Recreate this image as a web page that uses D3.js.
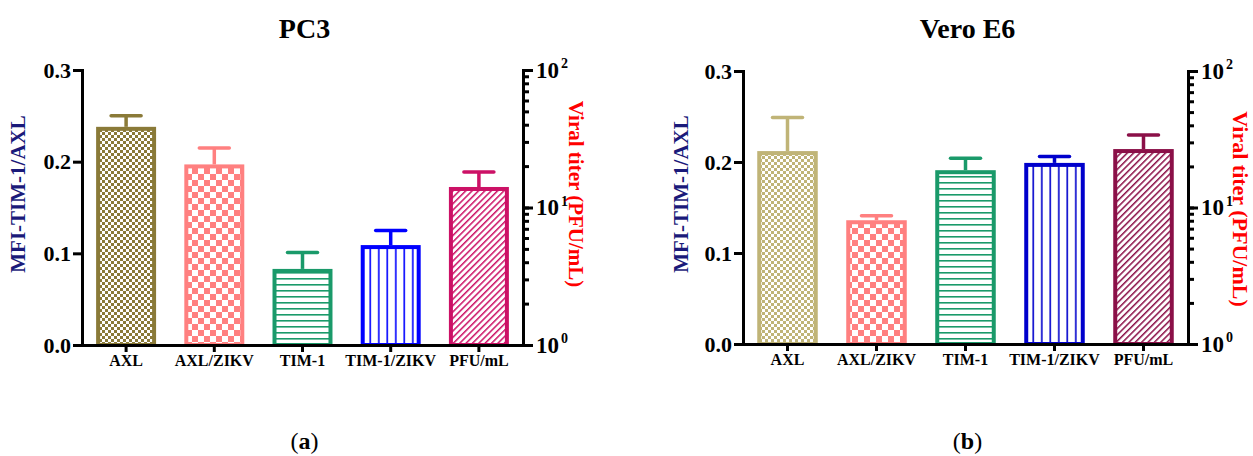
<!DOCTYPE html>
<html>
<head>
<meta charset="utf-8">
<script src="https://cdn.jsdelivr.net/npm/d3@7.9.0/dist/d3.min.js"></script>
<style>
  body { margin: 0; background: #fff; }
  svg text { font-family: "Liberation Serif", "Times New Roman", serif; font-weight: bold; }
</style>
</head>
<body>
<svg id="chart" width="1253" height="456"></svg>
<script>
// Data
const categories = ['AXL', 'AXL/ZIKV', 'TIM-1', 'TIM-1/ZIKV', 'PFU/mL'];
const pc3Means = [0.238, 0.197, 0.083, 0.109, 14.1];
const pc3Errors = [0.012, 0.018, 0.018, 0.016, 4.0];
const veroMeans = [0.212, 0.136, 0.191, 0.199, 26.8];
const veroErrors = [0.037, 0.005, 0.013, 0.007, 7.2];
const leftTicks = [0, 0.1, 0.2, 0.3];
const rightTicks = [1, 10, 100];
const titles = ['PC3', 'Vero E6'];
const captions = ['a', 'b'];

const pc3Colors = ['#8a7a38', '#ff8080', '#1a9a6a', '#0000ff', '#cc1166'];
const veroColors = ['#c0b477', '#ff8080', '#1a9a6a', '#0000cc', '#8b1048'];
const patternKinds = ['checkFine', 'checkCoarse', 'hlines', 'vlines', 'diag'];

const svg = d3.select('#chart');
const defs = svg.append('defs');

function makePattern(id, kind, color) {
  let p = defs.append('pattern').attr('id', id).attr('patternUnits', 'userSpaceOnUse');
  if (kind === 'checkFine' || kind === 'checkCoarse') {
    let s = kind === 'checkFine' ? 3 : 6;
    p.attr('width', s * 2).attr('height', s * 2);
    p.append('rect').attr('width', s * 2).attr('height', s * 2).attr('fill', '#fff');
    p.append('rect').attr('width', s).attr('height', s).attr('fill', color);
    p.append('rect').attr('x', s).attr('y', s).attr('width', s).attr('height', s).attr('fill', color);
  } else if (kind === 'hlines') {
    p.attr('width', 6).attr('height', 6);
    p.append('rect').attr('width', 6).attr('height', 6).attr('fill', '#fff');
    p.append('rect').attr('y', 2).attr('width', 6).attr('height', 1.6).attr('fill', color);
  } else if (kind === 'vlines') {
    p.attr('width', 8.5).attr('height', 8);
    p.append('rect').attr('width', 8.5).attr('height', 8).attr('fill', '#fff');
    p.append('rect').attr('x', 4).attr('width', 1.6).attr('height', 8).attr('fill', color);
  } else {
    p.attr('width', 4.5).attr('height', 4.5).attr('patternTransform', 'rotate(45)');
    p.append('rect').attr('width', 4.5).attr('height', 4.5).attr('fill', '#fff');
    p.append('rect').attr('width', 1.5).attr('height', 4.5).attr('fill', color);
  }
}

function drawPanel(cfg) {
  let g = svg.append('g');

  let x = d3.scaleBand().domain(categories).range([cfg.left, cfg.right]).paddingInner(0.32).paddingOuter(0.16);
  let yLeft = d3.scaleLinear().domain([0, 0.3]).range([cfg.bottom, cfg.top]);
  let yRight = d3.scaleLog().domain([1, 100]).range([cfg.bottom, cfg.top]);
  // last category is plotted against the log (viral titer) axis
  let yOf = (i) => i === categories.length - 1 ? yRight : yLeft;

  categories.forEach((c, i) => {
    makePattern(`${cfg.key}-p${i}`, patternKinds[i], cfg.colors[i]);
  });

  // error bars (behind bars)
  categories.forEach((c, i) => {
    let y = yOf(i);
    let cx = x(c) + x.bandwidth() / 2;
    let top = y(cfg.means[i] + cfg.errors[i]);
    g.append('line')
      .attr('x1', cx).attr('x2', cx)
      .attr('y1', y(cfg.means[i])).attr('y2', top)
      .attr('stroke', cfg.colors[i]).attr('stroke-width', 3.5);
    g.append('line')
      .attr('x1', cx - 15).attr('x2', cx + 15)
      .attr('y1', top).attr('y2', top)
      .attr('stroke', cfg.colors[i]).attr('stroke-width', 3.5)
      .attr('stroke-linecap', 'round');
  });

  // bars
  categories.forEach((c, i) => {
    let y = yOf(i);
    g.append('rect')
      .attr('x', x(c) + 2)
      .attr('y', y(cfg.means[i]) + 2)
      .attr('width', x.bandwidth() - 4)
      .attr('height', cfg.bottom - y(cfg.means[i]) - 2)
      .attr('fill', `url(#${cfg.key}-p${i})`)
      .attr('stroke', cfg.colors[i])
      .attr('stroke-width', 4);
  });

  // left axis
  let la = g.append('g').attr('transform', `translate(${cfg.left},0)`)
    .call(d3.axisLeft(yLeft).tickValues(leftTicks).tickFormat(d3.format('.1f')).tickSize(9).tickSizeOuter(0));
  la.selectAll('text').attr('font-size', 22).attr('x', -11).attr('fill', '#000');

  // right axis: minor then major ticks
  let rm = g.append('g').attr('transform', `translate(${cfg.right},0)`)
    .call(d3.axisRight(yRight).tickValues(yRight.ticks()).tickFormat('').tickSize(6).tickSizeOuter(0));
  rm.select('.domain').remove();
  let ra = g.append('g').attr('transform', `translate(${cfg.right},0)`)
    .call(d3.axisRight(yRight).tickValues(rightTicks).tickSize(10).tickSizeOuter(0));
  ra.selectAll('text').each(function (d) {
    let t = d3.select(this).text('').attr('x', 13).attr('font-size', 23).attr('fill', '#000').attr('text-anchor', 'start');
    t.append('tspan').text('10');
    t.append('tspan').text(Math.round(Math.log10(d))).attr('font-size', 14).attr('dy', '-0.7em').attr('dx', 2);
  });

  // bottom axis
  let ba = g.append('g').attr('transform', `translate(0,${cfg.bottom})`)
    .call(d3.axisBottom(x).tickSize(7).tickSizeOuter(0));
  ba.selectAll('text').attr('font-size', 16).attr('y', 10).attr('fill', '#000');

  [la, rm, ra, ba].forEach(a => {
    a.selectAll('line').attr('stroke', '#000').attr('stroke-width', 3);
    a.selectAll('.domain').attr('stroke', '#000').attr('stroke-width', 3).attr('stroke-linecap', 'square');
  });

  // axis titles
  g.append('text')
    .attr('transform', `translate(${cfg.leftLabelX},194) rotate(-90)`)
    .attr('text-anchor', 'middle').attr('font-size', 21).attr('fill', '#1a1a7a')
    .text('MFI-TIM-1/AXL');
  g.append('text')
    .attr('transform', `translate(${cfg.rightLabelX},${cfg.rightLabelY}) rotate(90)`)
    .attr('text-anchor', 'middle').attr('font-size', cfg.rightLabelSize).attr('fill', '#ff0000')
    .text('Viral titer (PFU/mL)');

  // title and caption
  let mid = (cfg.left + cfg.right) / 2 + 2;
  g.append('text').attr('x', mid).attr('y', 38).attr('text-anchor', 'middle')
    .attr('font-size', 28).text(cfg.title);
  let cap = g.append('text').attr('x', mid).attr('y', 449).attr('text-anchor', 'middle')
    .attr('font-size', 24).attr('font-weight', 'normal');
  cap.append('tspan').text('(').attr('font-weight', 'normal');
  cap.append('tspan').text(cfg.caption).attr('font-weight', 'bold');
  cap.append('tspan').text(')').attr('font-weight', 'normal');
}

drawPanel({
  key: 'pc3', title: titles[0], caption: captions[0],
  means: pc3Means, errors: pc3Errors, colors: pc3Colors,
  left: 82, right: 523, top: 70, bottom: 345,
  leftLabelX: 25, rightLabelX: 569, rightLabelY: 194, rightLabelSize: 21
});
drawPanel({
  key: 'vero', title: titles[1], caption: captions[1],
  means: veroMeans, errors: veroErrors, colors: veroColors,
  left: 743, right: 1188, top: 71, bottom: 344,
  leftLabelX: 688, rightLabelX: 1233, rightLabelY: 209, rightLabelSize: 22
});
</script>
</body>
</html>
